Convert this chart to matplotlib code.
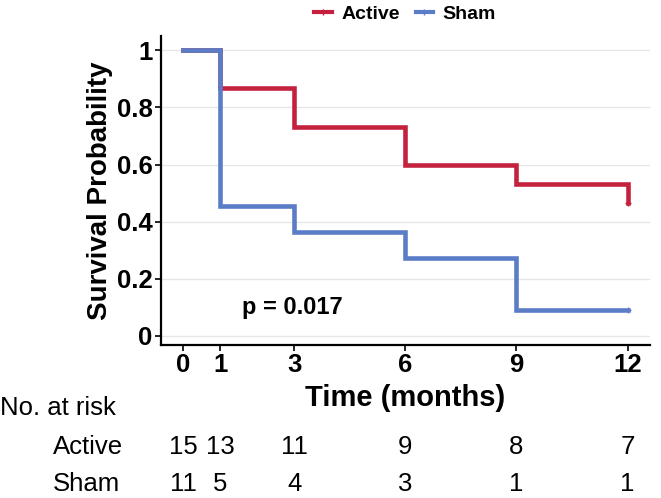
import matplotlib.pyplot as plt
import matplotlib.transforms as mtransforms

plt.rcParams['font.family'] = ['Liberation Sans', 'DejaVu Sans']

times = [0, 1, 3, 6, 9, 12]
active_surv = [1.0, 0.867, 0.733, 0.6, 0.533, 0.467]
sham_surv = [1.0, 0.455, 0.364, 0.273, 0.091, 0.091]
active_risk = [15, 13, 11, 9, 8, 7]
sham_risk = [11, 5, 4, 3, 1, 1]
y_ticks = [0, 0.2, 0.4, 0.6, 0.8, 1.0]
y_tick_labels = ['0', '0.2', '0.4', '0.6', '0.8', '1']
p_text = 'p = 0.017'

red = '#C4213F'
blue = '#5B7CC6'

fig = plt.figure(figsize=(6.61, 4.98), dpi=100)
ax = fig.add_axes([0.2436, 0.3072, 0.7394, 0.6205])

ax.step(times, active_surv, where='post', color=red, lw=3.3, label='Active', zorder=3,
        solid_joinstyle='miter')
ax.step(times, sham_surv, where='post', color=blue, lw=3.3, label='Sham', zorder=4,
        solid_joinstyle='miter')
# censor marks at end of follow-up
ax.plot(times[-1], active_surv[-1], marker='+', color=red, ms=5, mew=1, ls='none', zorder=5)
ax.plot(times[-1], sham_surv[-1], marker='+', color=blue, ms=5, mew=1, ls='none', zorder=5)

ax.set_xlim(-0.6, 12.6)
ax.set_ylim(-0.032, 1.05)
ax.set_xticks(times)
ax.set_xticklabels([str(t) for t in times], fontsize=18.5, fontweight='bold')
ax.set_yticks(y_ticks)
ax.set_yticklabels(y_tick_labels, fontsize=18.5, fontweight='bold')
ax.tick_params(axis='both', length=4, width=1.2, color='black', pad=2)
ax.yaxis.grid(True, color='#E6E6E6', lw=1)
ax.set_axisbelow(True)
for s in ['top', 'right']:
    ax.spines[s].set_visible(False)
for s in ['left', 'bottom']:
    ax.spines[s].set_linewidth(1.6)

ax.set_ylabel('Survival Probability', fontsize=20, fontweight='bold', labelpad=3)
ax.set_xlabel('Time (months)', fontsize=21, fontweight='bold', labelpad=5)

ax.text(2.95, 0.098, p_text, fontsize=17, fontweight='bold', ha='center', va='center')

leg_handles = [plt.Line2D([0], [0], color=red, lw=3, marker='+', ms=5),
               plt.Line2D([0], [0], color=blue, lw=3, marker='+', ms=5)]
fig.legend(leg_handles, ['Active', 'Sham'], loc='center', bbox_to_anchor=(0.613, 0.972),
           ncol=2, frameon=False, handlelength=0.9, handletextpad=0.5, columnspacing=0.8,
           prop={'size': 14, 'weight': 'bold'})

# risk table
trans = mtransforms.blended_transform_factory(ax.transData, fig.transFigure)
fig.text(0.0, 1 - 408 / 498, 'No. at risk', fontsize=18.5, ha='left', va='center')
fig.text(53 / 661, 1 - 447 / 498, 'Active', fontsize=18.5, ha='left', va='center')
fig.text(53 / 661, 1 - 484 / 498, 'Sham', fontsize=18.5, ha='left', va='center')
for t, a, s in zip(times, active_risk, sham_risk):
    ax.text(t, 1 - 447 / 498, str(a), transform=trans, fontsize=18.5, ha='center', va='center')
    ax.text(t, 1 - 484 / 498, str(s), transform=trans, fontsize=18.5, ha='center', va='center')

fig.savefig('out.png', dpi=100)
